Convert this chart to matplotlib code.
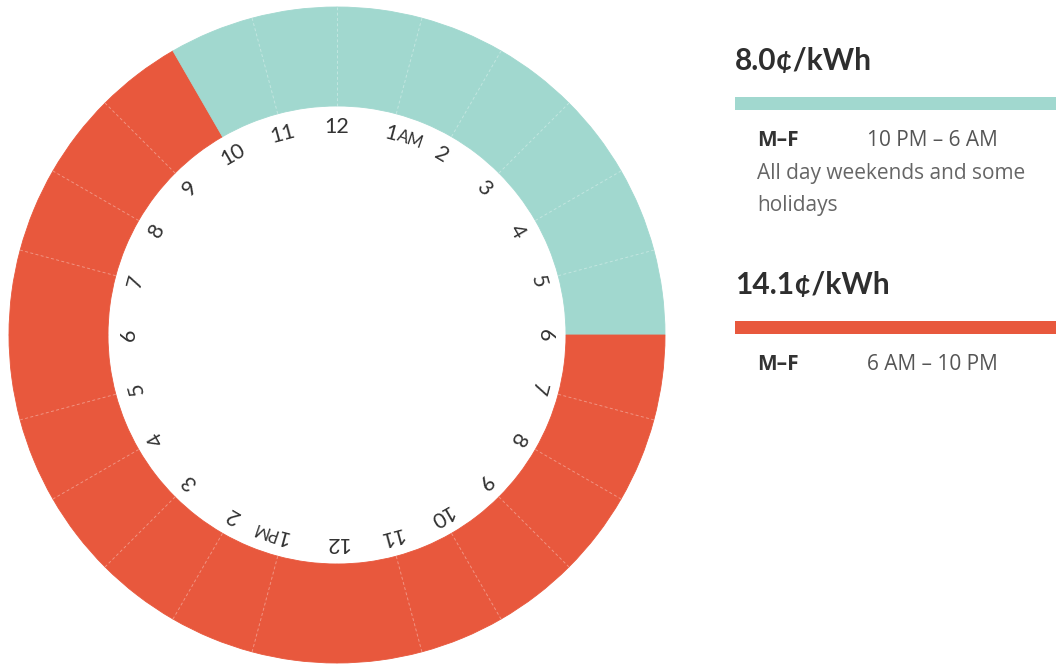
import numpy as np
import matplotlib.pyplot as plt
from matplotlib.patches import Wedge, Rectangle

plt.rcParams['font.family'] = ['Lato', 'DejaVu Sans']

# --- data -------------------------------------------------------------
HOURS = list(range(24))                      # 0 = midnight
OFF_PEAK = [22, 23, 0, 1, 2, 3, 4, 5]        # 10 PM - 6 AM
HOUR_LABELS = ["12", "1", "2", "3", "4", "5", "6", "7", "8", "9", "10", "11",
               "12", "1", "2", "3", "4", "5", "6", "7", "8", "9", "10", "11"]
SUFFIX = {1: "AM", 13: "PM"}
NO_DIVIDER = [6, 12, 18, 22]

RATES = ["8.0¢/kWh", "14.1¢/kWh"]
RATE_DAYS = ["M–F", "M–F"]
RATE_TIMES = ["10 PM – 6 AM", "6 AM – 10 PM"]
RATE_NOTES = [["All day weekends and some", "holidays"], []]

TEAL = "#a1d8cf"
RED = "#e8583d"
RATE_COLORS = [TEAL, RED]

# --- layout (pixel coords, y down) -----------------------------------
CX, CY = 337, 335
R_OUT, R_IN = 328, 229
R_LABEL = 208

fig = plt.figure(figsize=(10.56, 6.64), dpi=100)
ax = fig.add_axes([0, 0, 1, 1])
ax.set_xlim(0, 1056)
ax.set_ylim(664, 0)
ax.set_aspect('equal')
ax.axis('off')

# ring segments
for h in HOURS:
    col = TEAL if h in OFF_PEAK else RED
    w = Wedge((CX, CY), R_OUT, 15 * h - 90, 15 * (h + 1) - 90,
              width=R_OUT - R_IN, facecolor=col, edgecolor=col, linewidth=0.6)
    ax.add_patch(w)

# faint dashed dividers
for h in HOURS:
    if h in NO_DIVIDER:
        continue
    a = np.radians(15 * h)
    xs = [CX + R_IN * np.sin(a), CX + R_OUT * np.sin(a)]
    ys = [CY - R_IN * np.cos(a), CY - R_OUT * np.cos(a)]
    ax.plot(xs, ys, color="white", lw=0.7, alpha=0.35,
            dashes=(3, 2.5), solid_capstyle='butt')

# hour labels
for h, lab in zip(HOURS, HOUR_LABELS):
    a = np.radians(15 * h)
    x = CX + R_LABEL * np.sin(a)
    y = CY - R_LABEL * np.cos(a)
    ax.text(x, y, lab, fontsize=15.5, color="#333333",
            ha='center', va='center', rotation=-15 * h, rotation_mode='anchor')
    if h in SUFFIX:
        # small AM/PM tag following the digit along the tangent
        off = 6.5
        tx = x + off * np.cos(a)
        ty = y + off * np.sin(a)
        ax.text(tx, ty, SUFFIX[h], fontsize=12, color="#333333",
                ha='left', va='center', rotation=-15 * h - 4,
                rotation_mode='anchor')

# --- legend ------------------------------------------------------------
TOPS = [61, 285]
for i, top in enumerate(TOPS):
    ax.text(735, top, RATES[i], fontsize=21.5, fontweight='bold',
            color="#2e2e2e", ha='left', va='center')
    ax.add_patch(Rectangle((735, top + 36), 330, 13,
                           facecolor=RATE_COLORS[i], edgecolor='none'))
    ry = top + 79
    ax.text(757, ry, RATE_DAYS[i], fontsize=15, fontweight='bold',
            color="#333333", ha='left', va='center', family='Open Sans')
    ax.text(867, ry, RATE_TIMES[i], fontsize=15, color="#555555",
            ha='left', va='center', family='Open Sans')
    for k, note in enumerate(RATE_NOTES[i]):
        ax.text(757, ry + 33 + 32 * k, note, fontsize=15, color="#666666",
                ha='left', va='center', family='Open Sans')

fig.savefig("out.png", dpi=100, facecolor="white")
